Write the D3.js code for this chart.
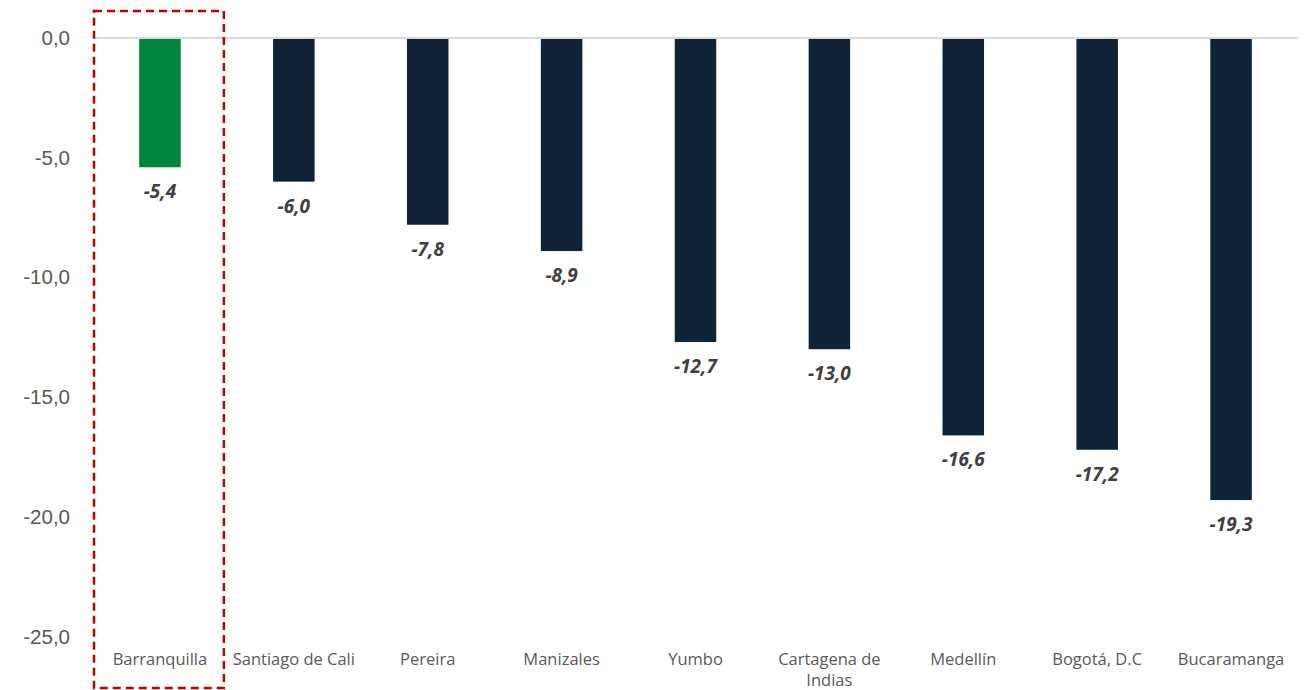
<!DOCTYPE html>
<html>
<head>
<meta charset="utf-8">
<script src="https://cdn.jsdelivr.net/npm/d3@7"></script>
<style>
  body { margin: 0; background: #ffffff; }
  svg { display: block; font-family: "Open Sans", "Noto Sans", sans-serif; }
</style>
</head>
<body>
<div id="chart"></div>
<script>
// Chart data
const cities = ['Barranquilla', 'Santiago de Cali', 'Pereira', 'Manizales', 'Yumbo',
	'Cartagena de Indias', 'Medellín', 'Bogotá, D.C', 'Bucaramanga'];
const values = [-5.4, -6.0, -7.8, -8.9, -12.7, -13.0, -16.6, -17.2, -19.3];
const yTicks = [0, -5, -10, -15, -20, -25];
const highlighted = 'Barranquilla';

const width = 1312;
const height = 690;
const margin = { top: 38, right: 14, bottom: 53, left: 93 };

const svg = d3.select('#chart')
	.append('svg')
	.attr('width', width)
	.attr('height', height);

const x = d3.scaleBand()
	.domain(cities)
	.range([margin.left, width - margin.right])
	.paddingInner(0.69)
	.paddingOuter(0.345);

const y = d3.scaleLinear()
	.domain([0, -25])
	.range([margin.top, height - margin.bottom - 0.5]);

const fmt = (v) => d3.format('.1f')(v).replace('.', ',').replace('−', '-');

// y axis labels, no line
const yAxis = svg.append('g')
	.attr('transform', `translate(${margin.left}, 0)`)
	.call(d3.axisLeft(y).tickValues(yTicks).tickSize(0).tickPadding(23).tickFormat(fmt));
yAxis.select('.domain').remove();
yAxis.selectAll('text')
	.attr('fill', '#595959')
	.attr('font-size', 20.5);

// zero line
svg.append('line')
	.attr('x1', margin.left)
	.attr('x2', width - margin.right)
	.attr('y1', y(0))
	.attr('y2', y(0))
	.attr('stroke', '#d9d9d9')
	.attr('stroke-width', 2);

// bars
svg.selectAll('rect.bar')
	.data(cities)
	.join('rect')
	.attr('class', 'bar')
	.attr('x', (d) => x(d))
	.attr('width', x.bandwidth())
	.attr('y', y(0) + 1)
	.attr('height', (d, i) => y(values[i]) - y(0) - 1)
	.attr('fill', (d) => (d === highlighted ? '#00843d' : '#0e2335'));

// value labels
svg.selectAll('text.val')
	.data(cities)
	.join('text')
	.attr('class', 'val')
	.attr('x', (d) => x(d) + x.bandwidth() / 2)
	.attr('y', (d, i) => y(values[i]) + 31)
	.attr('text-anchor', 'middle')
	.attr('font-size', 19)
	.attr('font-weight', 'bold')
	.attr('font-style', 'italic')
	.attr('fill', '#404040')
	.text((d, i) => fmt(values[i]));

// category labels (wrap long ones)
const catLabels = svg.selectAll('text.cat')
	.data(cities)
	.join('text')
	.attr('class', 'cat')
	.attr('text-anchor', 'middle')
	.attr('font-size', 16.5)
	.attr('fill', '#595959');

catLabels.each(function (d) {
	const lines = d === 'Cartagena de Indias' ? ['Cartagena de', 'Indias'] : [d];
	d3.select(this).selectAll('tspan')
		.data(lines)
		.join('tspan')
		.attr('x', x(d) + x.bandwidth() / 2)
		.attr('y', (l, i) => 665 + i * 21)
		.text((l) => l);
});

// dashed highlight box around Barranquilla
const step = x.step();
svg.append('rect')
	.attr('x', x(highlighted) + x.bandwidth() / 2 - step / 2 + 1)
	.attr('y', 11)
	.attr('width', step - 4)
	.attr('height', 677)
	.attr('fill', 'none')
	.attr('stroke', '#c00000')
	.attr('stroke-width', 2.5)
	.attr('stroke-dasharray', '8,5');
</script>
</body>
</html>
